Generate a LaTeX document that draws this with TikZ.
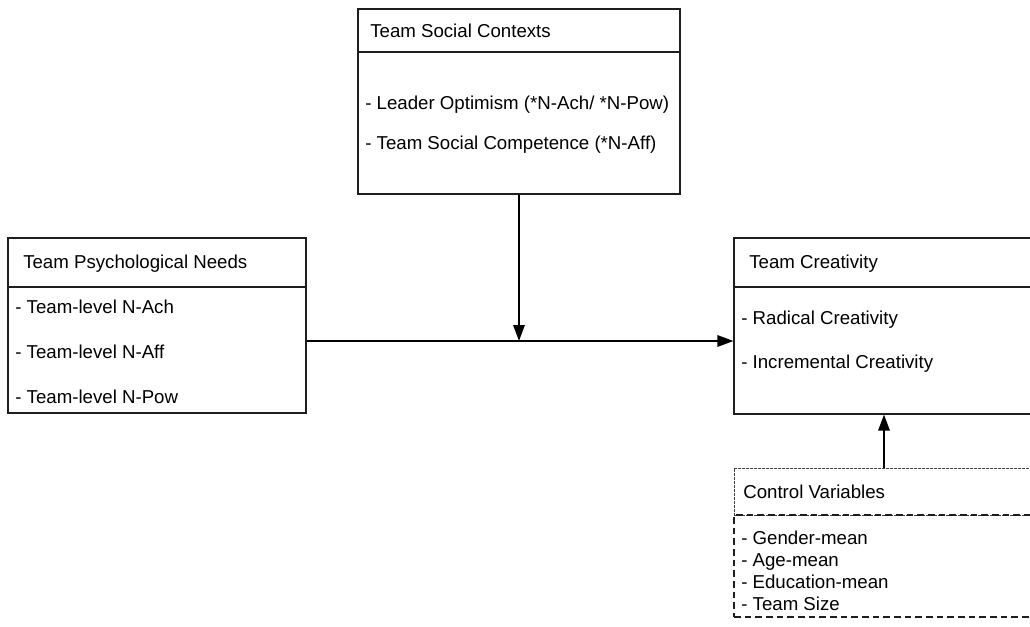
\documentclass[tikz,border=0pt]{standalone}
\usepackage{fontspec}
\setmainfont{Liberation Sans}
\usetikzlibrary{arrows.meta}
\definecolor{lineGray}{RGB}{30, 30, 30}

\begin{document}
\begin{tikzpicture}[x=0.75pt, y=-0.75pt,
    font=\fontsize{14}{16}\selectfont,
    box/.style={draw=lineGray, line width=0.8pt, rectangle, inner sep=0pt},
    divider/.style={lineGray, line width=1.4pt},
    txt/.style={anchor=base west, inner sep=0pt},
    conn/.style={line width=1.5pt, -{Triangle[length=12pt, width=8.5pt]}}]
      \useasboundingbox (0,0) rectangle (1030,627);
      \clip (0,0) rectangle (1030,627);

      % Team social contexts (top)
      \node[box, minimum width=241.5pt, minimum height=138.75pt] (ctx) at (519,101.5) {};
      \draw[divider] (ctx.west |- 0,52) -- (ctx.east |- 0,52);
      \node[txt] (ctxtitle) at (370,37.5) {Team Social Contexts};
      \node[txt] (ctxa) at (365,110) {- Leader Optimism (*N-Ach/ *N-Pow)};
      \node[txt] (ctxb) at (365,150) {- Team Social Competence (*N-Aff)};

      % Team psychological needs (left)
      \node[box, minimum width=223.5pt, minimum height=131.25pt] (needs) at (157,325.5) {};
      \draw[divider] (needs.west |- 0,287) -- (needs.east |- 0,287);
      \node[txt] (needstitle) at (23,268.5) {Team Psychological Needs};
      \node[txt] (needsa) at (15,313) {- Team-level N-Ach};
      \node[txt] (needsb) at (15,358) {- Team-level N-Aff};
      \node[txt] (needsc) at (15,403) {- Team-level N-Pow};

      % Team creativity (right)
      \node[box, minimum width=225pt, minimum height=132pt] (creat) at (884,326) {};
      \draw[divider] (creat.west |- 0,287) -- (creat.east |- 0,287);
      \node[txt] (creattitle) at (749,268.5) {Team Creativity};
      \node[txt] (creata) at (741,324) {- Radical Creativity};
      \node[txt] (creatb) at (741,368.5) {- Incremental Creativity};

      % Control variables, dashed
      \node[box, draw=black!75, line width=0.6pt, dash pattern=on 2pt off 1pt,
            minimum width=225pt, minimum height=35.25pt] (ctrlhead) at (884,491.5) {};
      \node[box, line width=0.8pt, dash pattern=on 5pt off 3pt,
            minimum width=225pt, minimum height=76.5pt] (ctrlbody) at (884,566) {};
      \node[txt] (ctrltitle) at (743,498.5) {Control Variables};
      \node[txt] (ctrla) at (741,544) {- Gender-mean};
      \node[txt] (ctrlb) at (741,566.5) {- Age-mean};
      \node[txt] (ctrlc) at (741,588.5) {- Education-mean};
      \node[txt] (ctrld) at (741,610.5) {- Team Size};

      % connectors
      \coordinate (join) at (ctx.south |- 0,341);
      \draw[conn] (needs.east |- join) -- (creat.west |- join);
      \draw[conn] (ctx.south) -- (join);
      \draw[conn] (ctrlhead.north) -- (creat.south);
    \end{tikzpicture}
\end{document}
